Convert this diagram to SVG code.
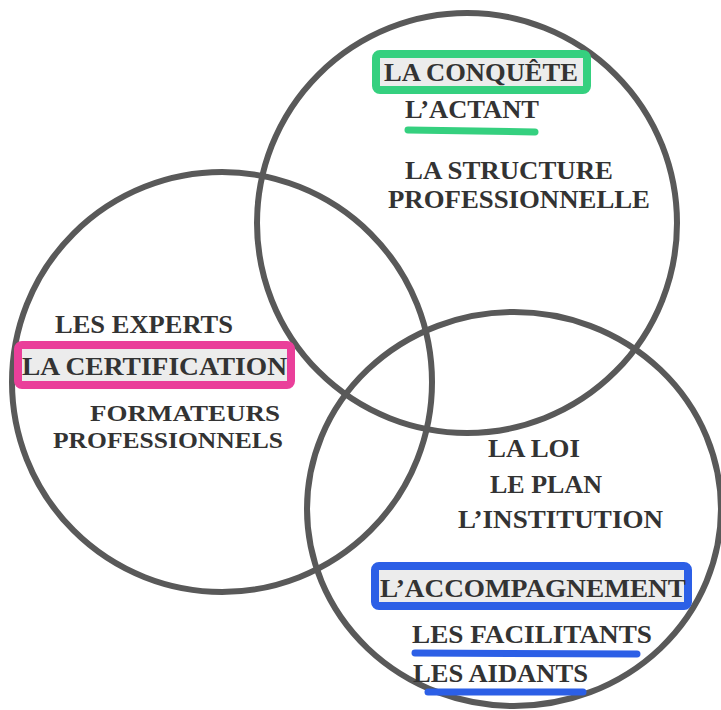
<svg xmlns="http://www.w3.org/2000/svg" width="721" height="710" viewBox="0 0 721 710">
<style>
.ring{fill:none;stroke:#595959;stroke-width:6}
.t{font-family:"Liberation Serif","Times New Roman",serif;font-weight:bold;font-size:25px;fill:#333333}
.s{font-size:23px}
.hl{fill:#ececec;stroke-width:8;stroke-linejoin:round}
.green{stroke:#35d07f}
.pink{stroke:#ea3f9a}
.blue{stroke:#2c5fe6}
.ul{stroke-width:7;stroke-linecap:round;fill:none}
</style>
<rect width="721" height="710" fill="#ffffff"/>
<g id="circle-top">
  <ellipse class="ring" cx="467" cy="223" rx="210" ry="210"/>
  <rect class="hl green" x="376" y="54" width="211" height="36" rx="4"/>
  <text class="t" x="384" y="81" textLength="194" lengthAdjust="spacingAndGlyphs">LA CONQUÊTE</text>
  <text class="t" x="405" y="118" textLength="134" lengthAdjust="spacingAndGlyphs">L’ACTANT</text>
  <line class="ul green" x1="408" y1="130" x2="535" y2="132"/>
  <text class="t" x="405" y="179" textLength="208" lengthAdjust="spacingAndGlyphs">LA STRUCTURE</text>
  <text class="t" x="388" y="208" textLength="262" lengthAdjust="spacingAndGlyphs">PROFESSIONNELLE</text>
</g>
<g id="circle-left">
  <ellipse class="ring" cx="222" cy="382" rx="210" ry="210"/>
  <text class="t" x="55" y="333" textLength="178" lengthAdjust="spacingAndGlyphs">LES EXPERTS</text>
  <rect class="hl pink" x="18" y="345" width="273" height="40" rx="4"/>
  <text class="t" x="22" y="375" textLength="265" lengthAdjust="spacingAndGlyphs">LA CERTIFICATION</text>
  <text class="t s" x="90" y="421" textLength="190" lengthAdjust="spacingAndGlyphs">FORMATEURS</text>
  <text class="t s" x="53" y="448" textLength="230" lengthAdjust="spacingAndGlyphs">PROFESSIONNELS</text>
</g>
<g id="circle-bottom">
  <ellipse class="ring" cx="514" cy="509" rx="207" ry="197"/>
  <text class="t" x="488" y="457" textLength="92" lengthAdjust="spacingAndGlyphs">LA LOI</text>
  <text class="t" x="490" y="493" textLength="112" lengthAdjust="spacingAndGlyphs">LE PLAN</text>
  <text class="t" x="458" y="528" textLength="205" lengthAdjust="spacingAndGlyphs">L’INSTITUTION</text>
  <rect class="hl blue" x="375" y="566" width="313" height="40" rx="4"/>
  <text class="t" x="380" y="597" textLength="306" lengthAdjust="spacingAndGlyphs">L’ACCOMPAGNEMENT</text>
  <text class="t" x="412" y="643" textLength="240" lengthAdjust="spacingAndGlyphs">LES FACILITANTS</text>
  <line class="ul blue" x1="415" y1="653" x2="637" y2="654"/>
  <text class="t" x="413" y="682" textLength="175" lengthAdjust="spacingAndGlyphs">LES AIDANTS</text>
  <line class="ul blue" x1="428" y1="692" x2="583" y2="692"/>
</g>
</svg>
